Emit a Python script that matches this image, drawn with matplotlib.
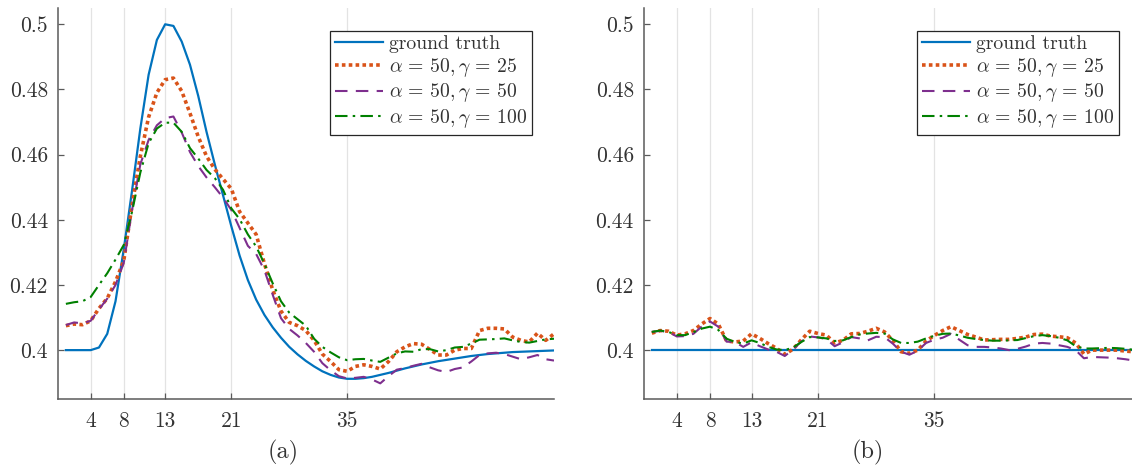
import numpy as np
import matplotlib
matplotlib.use('Agg')
import matplotlib.pyplot as plt

plt.rcParams['font.family'] = 'serif'
plt.rcParams['font.serif'] = ['cmr10']
plt.rcParams['mathtext.fontset'] = 'cm'
plt.rcParams['axes.unicode_minus'] = False

x = np.arange(1, 61)

# panel (a)
truth_a = [0.4, 0.4, 0.4, 0.4, 0.4008, 0.405, 0.415, 0.431, 0.449, 0.468,
           0.4845, 0.4952, 0.5, 0.4995, 0.4947, 0.4876, 0.478, 0.467, 0.457, 0.4475,
           0.438, 0.429, 0.4215, 0.4155, 0.4108, 0.407, 0.4038, 0.401, 0.3987, 0.3967,
           0.395, 0.3935, 0.3924, 0.3916, 0.3912, 0.3912, 0.3914, 0.3918, 0.3924, 0.393,
           0.3937, 0.3944, 0.395, 0.3956, 0.3961, 0.3966, 0.397, 0.3974, 0.3978, 0.3982,
           0.3985, 0.3988, 0.399, 0.3992, 0.3994, 0.3995, 0.3996, 0.3997, 0.3998, 0.3999]
g25_a = [0.4075, 0.408, 0.4078, 0.409, 0.4128, 0.4159, 0.421, 0.4275, 0.4445, 0.4595,
         0.4715, 0.479, 0.483, 0.4835, 0.4795, 0.4727, 0.4655, 0.4595, 0.4555, 0.4525,
         0.4495, 0.4425, 0.439, 0.4355, 0.4265, 0.4185, 0.412, 0.4085, 0.4075, 0.406,
         0.403, 0.3988, 0.3965, 0.394, 0.3935, 0.395, 0.3955, 0.395, 0.3942, 0.3965,
         0.3995, 0.401, 0.402, 0.4018, 0.4002, 0.3985, 0.3985, 0.4, 0.4005, 0.4005,
         0.406, 0.4067, 0.4067, 0.4065, 0.404, 0.403, 0.4025, 0.4052, 0.403, 0.405]
g50_a = [0.4077, 0.4085, 0.4082, 0.409, 0.4125, 0.4158, 0.42, 0.4268, 0.443, 0.457,
         0.4645, 0.469, 0.4712, 0.4717, 0.4668, 0.4608, 0.4565, 0.453, 0.45, 0.4468,
         0.443, 0.4375, 0.432, 0.4295, 0.4245, 0.417, 0.4098, 0.4065, 0.4045, 0.4022,
         0.3995, 0.396, 0.3938, 0.392, 0.3913, 0.3915, 0.3918, 0.391, 0.3898, 0.392,
         0.394, 0.3945, 0.3952, 0.3958, 0.3947, 0.3938, 0.3933, 0.3942, 0.3947, 0.3965,
         0.3985, 0.399, 0.3992, 0.3988, 0.398, 0.3972, 0.3978, 0.3985, 0.3972, 0.3968]
g100_a = [0.4142, 0.4147, 0.415, 0.4163, 0.42, 0.4236, 0.4278, 0.4323, 0.4425, 0.4545,
          0.4635, 0.468, 0.4698, 0.4698, 0.467, 0.462, 0.4588, 0.4553, 0.4528, 0.4492,
          0.4435, 0.4402, 0.4355, 0.4318, 0.4265, 0.4205, 0.415, 0.4115, 0.4095, 0.4075,
          0.4035, 0.401, 0.3993, 0.3978, 0.3969, 0.3972, 0.3973, 0.3968, 0.3964, 0.3977,
          0.399, 0.3996, 0.3995, 0.4003, 0.4003, 0.3996, 0.4, 0.4008, 0.401, 0.402,
          0.4032, 0.4033, 0.4034, 0.4036, 0.403, 0.4025, 0.4023, 0.4028, 0.4033, 0.4035]

# panel (b)
truth_b = [0.4] * 60
g25_b = [0.4052, 0.406, 0.4058, 0.4046, 0.405, 0.406, 0.408, 0.4097, 0.408, 0.4028,
         0.4025, 0.4028, 0.405, 0.4036, 0.402, 0.4006, 0.3987, 0.4003, 0.4032, 0.4058,
         0.4051, 0.4046, 0.4022, 0.403, 0.405, 0.4051, 0.4058, 0.4067, 0.4056, 0.403,
         0.3995, 0.399, 0.4, 0.4028, 0.4045, 0.406, 0.4072, 0.406, 0.4048, 0.404,
         0.4031, 0.4032, 0.4033, 0.4033, 0.4036, 0.404, 0.4048, 0.4049, 0.4043, 0.4041,
         0.4038, 0.4022, 0.3988, 0.4, 0.4, 0.4, 0.4, 0.3997, 0.3995, 0.3995]
g50_b = [0.4056, 0.4059, 0.4056, 0.4042, 0.4043, 0.405, 0.4072, 0.4088, 0.4072, 0.4026,
         0.4025, 0.401, 0.4024, 0.4012, 0.4002, 0.3995, 0.3982, 0.4002, 0.4027, 0.4042,
         0.4039, 0.4034, 0.4012, 0.4024, 0.404, 0.4036, 0.403, 0.4041, 0.404, 0.402,
         0.3995, 0.3986, 0.3998, 0.4022, 0.4032, 0.4038, 0.405, 0.4032, 0.4015, 0.401,
         0.401, 0.4008, 0.4005, 0.4, 0.4004, 0.4011, 0.402, 0.4022, 0.402, 0.4015,
         0.401, 0.4, 0.3975, 0.3979, 0.3978, 0.3977, 0.3975, 0.3972, 0.3968, 0.3965]
g100_b = [0.4056, 0.406, 0.4056, 0.4046, 0.4046, 0.4055, 0.4066, 0.4072, 0.4062, 0.4035,
          0.4025, 0.402, 0.403, 0.4022, 0.401, 0.4002, 0.4, 0.4008, 0.4025, 0.404,
          0.4039, 0.4036, 0.4028, 0.403, 0.404, 0.4048, 0.4051, 0.4053, 0.4051, 0.4033,
          0.4022, 0.4022, 0.4026, 0.4036, 0.4044, 0.405, 0.4051, 0.4045, 0.4038, 0.4034,
          0.4031, 0.4029, 0.4029, 0.403, 0.4031, 0.4037, 0.4043, 0.4046, 0.4043, 0.4038,
          0.403, 0.4012, 0.4005, 0.4005, 0.4006, 0.4007, 0.4006, 0.4004, 0.4001, 0.4]

labels = ['ground truth', r'$\alpha\,=\,50, \gamma\,=\,25$',
          r'$\alpha\,=\,50, \gamma\,=\,50$', r'$\alpha\,=\,50, \gamma\,=\,100$']
xticks = [4, 8, 13, 21, 35]
yticks = [0.4, 0.42, 0.44, 0.46, 0.48, 0.5]
yticklabels = ['0.4', '0.42', '0.44', '0.46', '0.48', '0.5']

W, H = 1132, 466
fig = plt.figure(figsize=(W / 100, H / 100), dpi=100)

txt_col = '#333333'
axis_col = '#5a5a5a'


def draw_panel(rect, data, legend_right, tag, tag_x):
    ax = fig.add_axes(rect)
    truth, g25, g50, g100 = data
    ax.plot(x, truth, color='#0072BD', lw=1.6, label=labels[0])
    ax.plot(x, g25, color='#D95319', lw=2.6, linestyle=(0, (1, 0.9)), label=labels[1])
    ax.plot(x, g50, color='#7E2F8E', lw=1.5, linestyle=(0, (6, 4)), label=labels[2])
    ax.plot(x, g100, color='#008000', lw=1.5, linestyle=(0, (6, 2.5, 1.2, 2.5)), label=labels[3])
    ax.set_xlim(0, 60)
    ax.set_ylim(0.385, 0.505)
    ax.set_xticks(xticks)
    ax.set_xticklabels([str(t) for t in xticks])
    ax.set_yticks(yticks)
    ax.set_yticklabels(yticklabels)
    for t in xticks:
        ax.axvline(t, color='#e3e3e3', lw=0.9, zorder=0)
    ax.spines['top'].set_visible(False)
    ax.spines['right'].set_visible(False)
    for s in ['left', 'bottom']:
        ax.spines[s].set_color(axis_col)
        ax.spines[s].set_linewidth(1.1)
    ax.tick_params(direction='in', length=4, width=0.9, color=axis_col,
                   labelcolor=txt_col, labelsize=15.5)
    ax.tick_params(axis='x', pad=9)
    ax.tick_params(axis='y', pad=7)
    leg = ax.legend(loc='upper right', bbox_to_anchor=(legend_right / W, 1 - 30.5 / H),
                    bbox_transform=fig.transFigure, borderaxespad=0, fontsize=14.2,
                    fancybox=False, framealpha=1, edgecolor='#262626',
                    handlelength=2.45, handletextpad=0.3, labelspacing=0.13,
                    borderpad=0.25)
    leg.get_frame().set_linewidth(0.9)
    for t in leg.get_texts():
        t.set_color(txt_col)
    fig.text(tag_x / W, 1 - 452 / H, tag, ha='center', va='center',
             fontsize=17.5, color=txt_col)
    return ax


draw_panel([57.6 / W, 1 - 399 / H, 496.4 / W, 391 / H],
           (truth_a, g25_a, g50_a, g100_a), 532, '(a)', 283)
draw_panel([643.5 / W, 1 - 399 / H, 498.6 / W, 391 / H],
           (truth_b, g25_b, g50_b, g100_b), 1119, '(b)', 868)

fig.savefig('out.png', dpi=100)
